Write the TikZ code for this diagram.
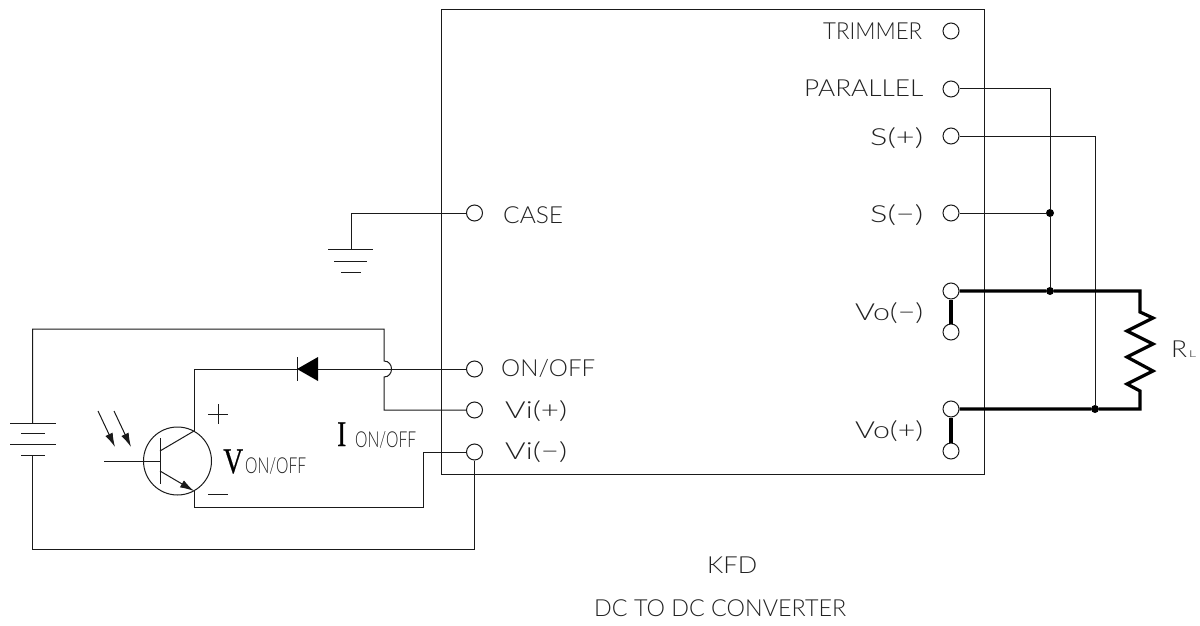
\documentclass[tikz,border=0pt]{standalone}
\usepackage{fontspec}
\usepackage{graphicx}
\setmainfont{Lato Light}
\newfontfamily\serifb{Liberation Serif}[FakeBold=0.6]
\usetikzlibrary{arrows.meta}
\definecolor{ink}{HTML}{1A1A1A}
\definecolor{txt}{HTML}{222222}
\newcommand{\fit}[2]{\resizebox{#1pt}{\height}{#2}}
\tikzset{
  wire/.style={draw=ink,line width=1pt},
  bus/.style={draw=black,line width=3.2pt},
  term/.style={circle,draw=ink,line width=1pt,fill=white,minimum size=16pt,inner sep=0pt},
  dot/.style={circle,fill=black,minimum size=8pt,inner sep=0pt},
  lbl/.style={inner sep=0pt,anchor=base west,text=txt,font=\fontsize{23.5}{23.5}\selectfont},
  sm/.style={inner sep=0pt,anchor=base west,text=txt,font=\fontsize{22}{22}\selectfont},
  big/.style={inner sep=0pt,anchor=base west,text=black,font=\serifb\fontsize{36}{36}\selectfont}
}
\begin{document}
\begin{tikzpicture}[x=1pt,y=-1pt]
\useasboundingbox (0,0) rectangle (1200,626);
\fill[white] (0,0) rectangle (1200,626);
% converter box
\node[draw=ink,line width=1pt,minimum width=542.5pt,minimum height=464pt,inner sep=0pt,anchor=north west] (box) at (441,9.5) {};
% terminals
\node[term] (trim) at (951,31) {};
\node[term] (par) at (951,89) {};
\node[term] (sp) at (951,136) {};
\node[term] (sm) at (951,213) {};
\node[term] (vm1) at (951,291) {};
\node[term] (vm2) at (951,332) {};
\node[term] (vp1) at (951,409) {};
\node[term] (vp2) at (951,451) {};
\node[term] (case) at (474.5,213) {};
\node[term] (onoff) at (474.5,369) {};
\node[term] (vip) at (474.5,410) {};
\node[term] (vim) at (474.5,452) {};
% junction dots
\node[dot] (j1) at (1050,213) {};
\node[dot] (j2) at (1050,291) {};
\node[dot] (j3) at (1095,409) {};
% corners
\coordinate (c1) at (1050,89);
\coordinate (c2) at (1095,136);
\coordinate (r1) at (1140,291);
\coordinate (r2) at (1140,409);
% right wiring
\draw[wire] (par) -- (c1) -- (j1) -- (j2);
\draw[wire] (sp) -- (c2) -- (j3);
\draw[wire] (sm) -- (j1);
\draw[bus] (vm1) -- (vm2);
\draw[bus] (vp1) -- (vp2);
\draw[bus,line join=miter] (vm1) -- (j2) -- (r1) -- (1140,312) -- (1153,318) -- (1127,331) -- (1153,344) -- (1127,357) -- (1153,371) -- (1127,384) -- (1140,391) -- (r2) -- (j3) -- (vp1);
% ground
\coordinate (g0) at (351,213);
\coordinate (g1) at (351,249.5);
\draw[wire] (case) -- (g0) -- (g1);
\draw[wire] (328,249.5) -- (373,249.5);
\draw[wire] (334,261) -- (367,261);
\draw[wire] (341,272) -- (361,272);
% battery
\coordinate (bt) at (32.5,423);
\coordinate (bb) at (32.5,455);
\draw[wire] (10,423) -- (56,423);
\draw[wire] (21,433.5) -- (45,433.5);
\draw[wire] (10,444) -- (56,444);
\draw[wire] (21,455) -- (45,455);
\draw[wire] (bt) -- (32.5,329) -- (384,329) -- (384,361) .. controls (394,361) and (394,377) .. (384,377) -- (384,410) -- (vip);
\draw[wire] (bb) -- (32.5,549) -- (474.5,549) -- (vim);
% transistor
\node[circle,draw=ink,line width=1pt,minimum size=68pt,inner sep=0pt] (q) at (177.5,461) {};
\coordinate (cc) at (194,431);
\coordinate (ee) at (194,491);
\draw[wire] (104,461) -- (160,461);
\draw[wire] (160,438) -- (160,484);
\draw[wire] (160,451) -- (cc);
\draw[wire,-{Latex[length=14pt,width=8pt]}] (160,471) -- (ee);
\draw[wire,-{Latex[length=14pt,width=8pt]}] (98,411) -- (115,447);
\draw[wire,-{Latex[length=14pt,width=8pt]}] (114,411) -- (131,447);
% diode
\coordinate (d1) at (297,369);
\coordinate (d2) at (318,369);
\draw[wire] (cc) -- (194,369) -- (d1);
\draw[wire] (d2) -- (onoff);
\draw[wire] (297,357) -- (297,381);
\fill[black] (297,369) -- (318,357) -- (318,381) -- cycle;
% emitter return
\draw[wire] (ee) -- (194,507) -- (423,507) -- (423,452) -- (vim);
% plus minus
\draw[wire] (208,414) -- (228,414);
\draw[wire] (218,404) -- (218,424);
\draw[wire] (208,494) -- (228,494);
% labels
\node[lbl] (ltrim) at (823,39.5) {\fit{99}{TRIMMER}};
\node[lbl] (lpar) at (804,97) {\fit{119}{PARALLEL}};
\node[lbl] (lsp) at (870,145) {\fit{53}{S(+)}};
\node[lbl] (lsm) at (870,222) {\fit{53}{S(−)}};
\node[lbl] (lvm) at (855,320) {\fit{68}{Vo(−)}};
\node[lbl] (lvp) at (855,438) {\fit{68}{Vo(+)}};
\node[lbl] (lcase) at (503,223) {\fit{60}{CASE}};
\node[lbl] (lon) at (501,376) {\fit{94}{ON/OFF}};
\node[lbl] (lvip) at (505,418) {\fit{62}{Vi(+)}};
\node[lbl] (lvim) at (505,459) {\fit{62}{Vi(−)}};
\node[lbl] (lkfd) at (707,573) {\fit{50}{KFD}};
\node[lbl] (ldc) at (594,616) {\fit{252}{DC TO DC CONVERTER}};
\node[lbl] (lr) at (1171,357) {\fit{16}{R}};
\node[sm,font=\fontsize{9.5}{10}\selectfont] (ll) at (1189,357) {\fit{7}{L}};
\node[big] (lv) at (223,473) {\fit{20}{V}};
\node[sm] (lvo) at (245,473) {\fit{61}{ON/OFF}};
\node[big] (li) at (337,446) {\fit{9}{I}};
\node[sm] (lio) at (355,447) {\fit{61}{ON/OFF}};
\end{tikzpicture}
\end{document}
